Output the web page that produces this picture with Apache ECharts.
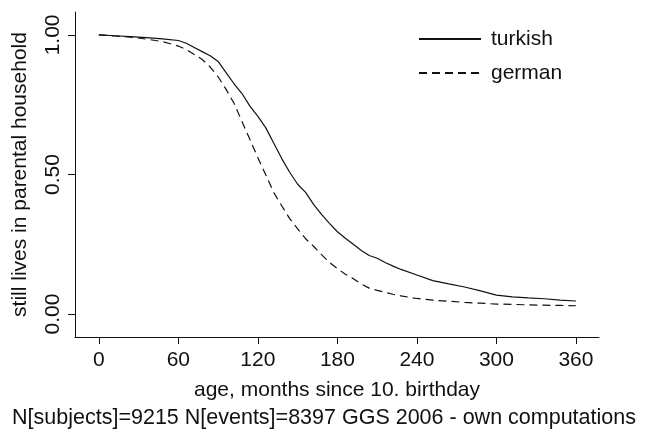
<!DOCTYPE html>
<html>
<head>
<meta charset="utf-8">
<script src="https://cdn.jsdelivr.net/npm/echarts@6/dist/echarts.min.js"></script>
<style>html,body{margin:0;padding:0;background:#fff}#c{width:648px;height:435px}</style>
</head>
<body>
<div id="c"></div>
<script>
var months = [0,12,24,36,48,60,66,72,78,84,90,96,102,108,114,120,126,132,138,144,150,156,162,168,174,180,186,192,198,204,210,216,222,228,240,252,264,276,288,300,312,324,336,348,360];
var turkish = [1.000,0.997,0.994,0.990,0.986,0.980,0.970,0.955,0.940,0.925,0.905,0.865,0.825,0.790,0.745,0.708,0.667,0.612,0.557,0.508,0.465,0.436,0.393,0.357,0.325,0.295,0.272,0.250,0.228,0.210,0.200,0.185,0.172,0.160,0.140,0.120,0.108,0.097,0.083,0.068,0.062,0.058,0.055,0.050,0.047];
var german = [1.000,0.996,0.992,0.985,0.976,0.960,0.948,0.930,0.912,0.885,0.850,0.805,0.755,0.690,0.625,0.560,0.498,0.435,0.388,0.342,0.305,0.270,0.243,0.213,0.185,0.163,0.143,0.127,0.108,0.093,0.085,0.078,0.071,0.065,0.056,0.050,0.046,0.042,0.039,0.036,0.035,0.033,0.032,0.031,0.030];
var xTicks = [0,60,120,180,240,300,360];
var yTicks = [0,0.5,1];
var seriesNames = ['turkish','german'];
var footer = 'N[subjects]=9215 N[events]=8397 GGS 2006 - own computations';
var xTitle = 'age, months since 10. birthday';
var yTitle = 'still lives in parental household';

function pairs(ys){ return months.map(function(m,i){ return [m, ys[i]]; }); }
var FONT = '"Liberation Sans", Arial, Helvetica, sans-serif';
var FS = 21;
var chart = echarts.init(document.getElementById('c'), null, {renderer:'canvas'});
chart.setOption({
  animation:false,
  backgroundColor:'#fff',
  textStyle:{fontFamily:FONT},
  grid:{left:75, right:49, top:12, bottom:98, containLabel:false, outerBoundsMode:'none'},
  legend:{
    orient:'vertical', left:413, top:23.5, itemWidth:62, itemHeight:14, itemGap:13,
    itemStyle:{opacity:0, borderWidth:0},
    textStyle:{fontSize:FS, color:'#111', fontFamily:FONT, padding:[0,0,0,5]},
    data:[seriesNames[0], seriesNames[1]]
  },
  xAxis:{
    type:'value', min:-18, max:377.4,
    name:xTitle, nameLocation:'middle', nameGap:43,
    nameTextStyle:{fontSize:FS, color:'#111', fontFamily:FONT},
    axisLine:{show:true, onZero:false, lineStyle:{color:'#111', width:1}},
    axisTick:{show:true, length:7, lineStyle:{color:'#111', width:1}, customValues:xTicks},
    axisLabel:{fontSize:FS, color:'#111', margin:13, fontFamily:FONT, customValues:xTicks,
      formatter:function(v){ return String(v); }},
    splitLine:{show:false}
  },
  yAxis:{
    type:'value', min:-0.082, max:1.082,
    name:yTitle, nameLocation:'middle', nameGap:44,
    nameTextStyle:{fontSize:FS, color:'#111', fontFamily:FONT},
    axisLine:{show:true, onZero:false, lineStyle:{color:'#111', width:1}},
    axisTick:{show:true, length:7, lineStyle:{color:'#111', width:1}, customValues:yTicks},
    axisLabel:{fontSize:FS, color:'#111', rotate:90, margin:11, fontFamily:FONT, customValues:yTicks,
      formatter:function(v){ return v.toFixed(2); }},
    splitLine:{show:false}
  },
  series:[
    {name:seriesNames[0], type:'line', data:pairs(turkish), symbol:'none', showSymbol:false,
     lineStyle:{color:'#111', width:1.2, type:'solid'}, itemStyle:{color:'#111'}},
    {name:seriesNames[1], type:'line', data:pairs(german), symbol:'none', showSymbol:false,
     lineStyle:{color:'#111', width:1.2, type:[8,5]}, itemStyle:{color:'#111'}}
  ],
  graphic:[{type:'text', left:'center', top:407, style:{text:footer, fontSize:21.5, fill:'#111', fontFamily:FONT}}]
});
</script>
</body>
</html>
